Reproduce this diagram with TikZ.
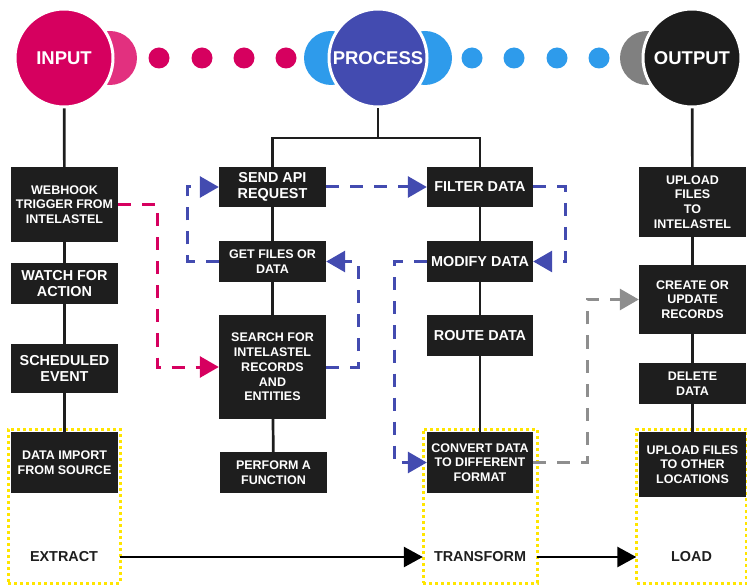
\documentclass[tikz,border=0pt]{standalone}
\usepackage{fontspec}
\setmainfont{Liberation Sans}
\usetikzlibrary{arrows.meta}

\definecolor{inpink}{HTML}{D6005F}
\definecolor{halfpink}{HTML}{E2307F}
\definecolor{procblue}{HTML}{434BB0}
\definecolor{skyblue}{HTML}{2E9BEB}
\definecolor{outblack}{HTML}{1C1C1C}
\definecolor{halfgrey}{HTML}{808080}
\definecolor{boxblack}{HTML}{1E1E1E}
\definecolor{zoneyellow}{HTML}{FFE500}
\definecolor{linegrey}{HTML}{8E8E8E}

\newcommand\bw{107pt}

\begin{document}
\begin{tikzpicture}[x=1pt,y=-1pt,
			box/.style={fill=boxblack,text=white,align=center,inner sep=0pt,minimum width=\bw,
				font=\bfseries\fontsize{12.5}{14.8}\selectfont},
			bigbox/.style={box,font=\bfseries\fontsize{14.4}{16.5}\selectfont},
			hub/.style={circle,draw=white,line width=3pt,minimum size=98pt,inner sep=0pt,text=white,
				font=\bfseries\fontsize{18.5}{20}\selectfont},
			zone/.style={draw=zoneyellow,line width=3pt,dash pattern=on 3pt off 3pt,minimum height=154pt},
			phase/.style={text=boxblack,inner sep=0pt,minimum height=20pt,font=\bfseries\fontsize{14.4}{16}\selectfont},
			link/.style={draw=boxblack,line width=2.7pt},
			flow/.style={line width=3pt,dash pattern=on 13pt off 11pt,-{Triangle[length=19pt,width=21pt]}},
			phasearrow/.style={draw=black,line width=2.7pt,-{Triangle[length=19pt,width=20pt]}}
		]
		\useasboundingbox (0,0) rectangle (747,585);

		% half discs and dots
		\fill[halfpink] (110,58) circle (27);
		\fill[skyblue] (331,58) circle (27);
		\fill[skyblue] (425,58) circle (27);
		\fill[halfgrey] (647,58) circle (27);
		\foreach \x in {159,202,244,286} \fill[inpink] (\x,58) circle (10.5);
		\foreach \x in {472,514,557,599} \fill[skyblue] (\x,58) circle (10.5);

		\node [hub,fill=inpink] (input) at (64,58) {INPUT};
		\node [hub,fill=procblue] (process) at (378,58) {PROCESS};
		\node [hub,fill=outblack] (output) at (692,58) {OUTPUT};

		% yellow zones
		\node [zone,minimum width=112pt] (zextract) at (64,506) {};
		\node [zone,minimum width=114pt] (ztransform) at (480,506) {};
		\node [zone,minimum width=110pt] (zload) at (691.5,506) {};

		% input column
		\node [box,minimum height=75pt] (webhook) at (64.5,204.5) {WEBHOOK\\TRIGGER FROM\\INTELASTEL};
		\node [bigbox,minimum height=41pt] (watch) at (64.5,283.5) {WATCH FOR\\ACTION};
		\node [bigbox,minimum height=49pt] (scheduled) at (64.5,368.5) {SCHEDULED\\EVENT};
		\node [box,minimum height=61pt] (import) at (64.5,462.5) {DATA IMPORT\\FROM SOURCE};

		% process columns
		\node [bigbox,minimum height=40pt] (send) at (272.5,187) {SEND API\\REQUEST};
		\node [box,minimum height=41pt] (getfiles) at (272.5,261.5) {GET FILES OR\\DATA};
		\node [box,minimum height=104pt] (search) at (272.5,367) {SEARCH FOR\\INTELASTEL\\RECORDS\\AND\\ENTITIES};
		\node [box,minimum height=41pt] (perform) at (273.5,472.5) {PERFORM A\\FUNCTION};

		\node [bigbox,minimum width=106pt,minimum height=40pt] (filter) at (480,187) {FILTER DATA};
		\node [bigbox,minimum width=106pt,minimum height=41pt] (modify) at (480,261.5) {MODIFY DATA};
		\node [bigbox,minimum width=106pt,minimum height=41pt] (route) at (480,335.5) {ROUTE DATA};
		\node [box,minimum width=106pt,minimum height=61pt] (convert) at (480,462.5) {CONVERT DATA\\TO DIFFERENT\\FORMAT};

		% output column
		\node [box,minimum height=70pt] (upintel) at (692.5,202) {UPLOAD\\FILES\\TO\\INTELASTEL};
		\node [box,minimum height=69pt] (create) at (692.5,299.5) {CREATE OR\\UPDATE\\RECORDS};
		\node [box,minimum height=41pt] (delete) at (692.5,383.5) {DELETE\\DATA};
		\node [box,minimum height=65pt] (upother) at (692.5,464.5) {UPLOAD FILES\\TO OTHER\\LOCATIONS};

		% phase labels
		\node [phase,minimum width=112pt] (extract) at (64,557) {EXTRACT};
		\node [phase,minimum width=114pt] (transform) at (480,557) {TRANSFORM};
		\node [phase,minimum width=110pt] (load) at (691.5,557) {LOAD};

		\coordinate (split) at (378,138);

		\draw[link] (input)--(webhook);
		\draw[link] (webhook)--(watch);
		\draw[link] (watch)--(scheduled);
		\draw[link] (scheduled)--(import);

		\draw[link] (process)--(split);
		\draw[link] (send) |- (split) -| (filter);
		\draw[link] (send)--(getfiles);
		\draw[link] (getfiles)--(search);
		\draw[link] (search)--(perform);
		\draw[link] (filter)--(modify);
		\draw[link] (modify)--(route);
		\draw[link] (route)--(convert);

		\draw[link] (output)--(upintel);
		\draw[link] (upintel)--(create);
		\draw[link] (create)--(delete);
		\draw[link] (delete)--(upother);

		% dashed flows
		\draw[flow,draw=inpink,color=inpink] (webhook.east) -- ++(39,0) |- (search.west);
		\draw[flow,draw=procblue,color=procblue] (getfiles.west) -- ++(-31,0) |- (send.west);
		\draw[flow,draw=procblue,color=procblue] (search.east) -- ++(32,0) |- (getfiles.east);
		\draw[flow,draw=procblue,color=procblue] (send)--(filter);
		\draw[flow,draw=procblue,color=procblue] (filter.east) -- ++(32,0) |- (modify.east);
		\draw[flow,draw=procblue,color=procblue] (modify.west) -- ++(-32,0) |- (convert.west);
		\draw[flow,draw=linegrey,color=linegrey] (convert.east) -- ++(54,0) |- (create.west);

		\draw[phasearrow] (extract)--(transform);
		\draw[phasearrow] (transform)--(load);
	\end{tikzpicture}
\end{document}
